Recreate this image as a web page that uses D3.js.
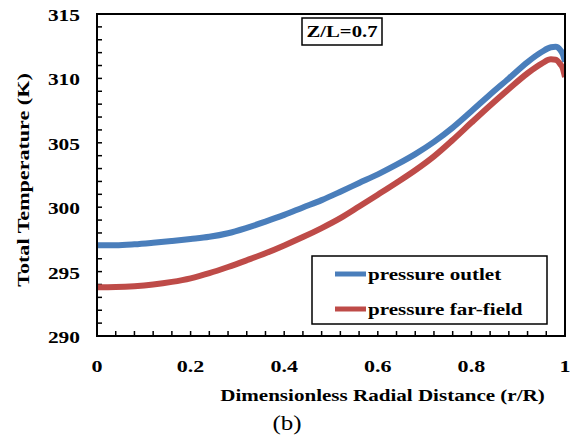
<!DOCTYPE html>
<html><head><meta charset="utf-8">
<script src="https://cdn.jsdelivr.net/npm/d3@7"></script>
<style>
html,body{margin:0;padding:0;background:#fff;}
</style></head>
<body><svg id="c" width="578" height="443"></svg>
<script>
const rOutlet = [0,0.04,0.08,0.12,0.16,0.2,0.24,0.28,0.32,0.36,0.4,0.44,0.48,0.52,0.56,0.6,0.64,0.68,0.72,0.76,0.8,0.84,0.88,0.92,0.95,0.97,0.98,0.99,0.995,1.0];
const tOutlet = [297.05,297.05,297.12,297.24,297.38,297.53,297.7,297.98,298.4,298.88,299.4,299.98,300.55,301.2,301.88,302.55,303.3,304.12,305.07,306.18,307.45,308.75,310.0,311.27,312.05,312.42,312.45,312.2,311.9,311.3];
const rFar = [0,0.04,0.08,0.12,0.16,0.2,0.24,0.28,0.32,0.36,0.4,0.44,0.48,0.52,0.56,0.6,0.64,0.68,0.72,0.76,0.8,0.84,0.88,0.92,0.95,0.97,0.98,0.99,0.995,1.0];
const tFar = [293.78,293.8,293.87,294.0,294.2,294.48,294.88,295.36,295.88,296.42,297.03,297.68,298.38,299.15,300.05,300.97,301.9,302.87,303.95,305.22,306.57,307.9,309.18,310.4,311.15,311.48,311.45,311.1,310.8,310.1];
const seriesNames = ["pressure outlet","pressure far-field"];
const seriesColors = ["#4a7ebb","#be4b48"];
const xTicks = [0,0.2,0.4,0.6,0.8,1];
const xTickLabels = ["0","0.2","0.4","0.6","0.8","1"];
const yTicks = [290,295,300,305,310,315];
const annotation = "Z/L=0.7";
const xTitle = "Dimensionless Radial Distance (r/R)";
const yTitle = "Total Temperature (K)";
const caption = "(b)";

const FONT = "'Liberation Serif', 'Times New Roman', Times, 'DejaVu Serif', serif";
const svg = d3.select("#c").attr("font-family", FONT);
const L=97, R=565, T=14, B=336;
const x = d3.scaleLinear().domain([0,1]).range([L,R]);
const y = d3.scaleLinear().domain([290,315]).range([B,T]);

function addText(px, py, str, o){
  o = o || {};
  return svg.append("text")
    .attr("transform", `translate(${px},${py}) rotate(${o.rot||0}) scale(${o.sx||1.26},1)`)
    .attr("font-family", FONT)
    .attr("font-size", o.size||17)
    .attr("font-weight", o.weight||"bold")
    .attr("text-anchor", o.anchor||"start")
    .attr("fill","#000")
    .text(str);
}

const xMinor = d3.range(0,1.0001,0.04);
const yMinor = d3.range(290,315.001,1);
const g = svg.append("g");
g.selectAll(".xm").data(xMinor).enter().append("line")
  .attr("x1",d=>x(d)).attr("x2",d=>x(d)).attr("y1",B).attr("y2",B-5)
  .attr("stroke","#000").attr("stroke-width",1.5);
g.selectAll(".ym").data(yMinor).enter().append("line")
  .attr("x1",L).attr("x2",L+5).attr("y1",d=>y(d)).attr("y2",d=>y(d))
  .attr("stroke","#000").attr("stroke-width",1.5);

const line = d3.line().x(d=>x(d[0])).y(d=>y(d[1])).curve(d3.curveMonotoneX);
const series = [d3.zip(rOutlet,tOutlet), d3.zip(rFar,tFar)];
svg.append("defs").append("clipPath").attr("id","clip").append("rect")
  .attr("x",L).attr("y",T).attr("width",R-L).attr("height",B-T);
series.forEach((s,i)=>{
  svg.append("path").datum(s).attr("d",line).attr("fill","none")
    .attr("stroke",seriesColors[i]).attr("stroke-width",6)
    .attr("stroke-linejoin","round").attr("clip-path","url(#clip)");
});

svg.append("rect").attr("x",L).attr("y",T).attr("width",R-L).attr("height",B-T)
  .attr("fill","none").attr("stroke","#000").attr("stroke-width",2);

xTicks.forEach((d,i)=> addText(x(d), 372, xTickLabels[i], {anchor:"middle", size:17.5}));
yTicks.forEach(d=> addText(80, y(d)+7, String(d), {anchor:"end", size:17}));

addText(382.5, 401, xTitle, {anchor:"middle", size:17, sx:1.24});
addText(29, 180, yTitle, {anchor:"middle", size:17, rot:-90, sx:1.3});
addText(287, 430, caption, {anchor:"middle", size:20, weight:"normal", sx:1.25});

svg.append("rect").attr("x",302).attr("y",18).attr("width",80).attr("height",27)
  .attr("fill","#fff").attr("stroke","#000").attr("stroke-width",1.5);
addText(342, 37, annotation, {anchor:"middle", size:17, sx:1.22});

svg.append("rect").attr("x",312).attr("y",256).attr("width",235).attr("height",68)
  .attr("fill","#fff").attr("stroke","#000").attr("stroke-width",1.5);
const ly=[274,309];
seriesNames.forEach((n,i)=>{
  svg.append("line").attr("x1",335).attr("x2",366).attr("y1",ly[i]).attr("y2",ly[i])
    .attr("stroke",seriesColors[i]).attr("stroke-width",5);
  addText(368, ly[i]+6, n, {size:17, sx:1.24});
});
</script></body></html>
